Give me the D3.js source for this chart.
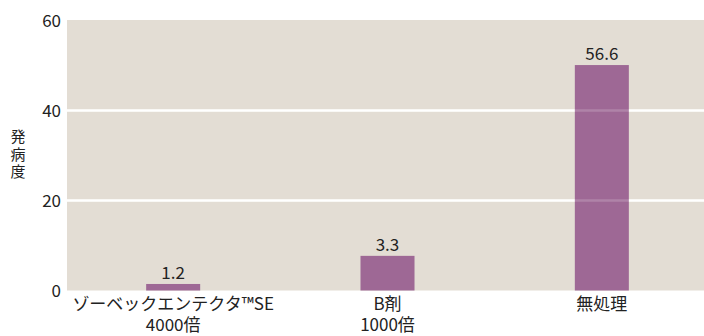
<!DOCTYPE html>
<html><head><meta charset="utf-8">
<script src="https://cdn.jsdelivr.net/npm/d3@7"></script>
<style>html,body{margin:0;padding:0;background:#fff;}svg{display:block;}</style>
</head><body>
<svg id="c" width="704" height="336"></svg>
<script>
const categories = [["ゾーベックエンテクタ™SE","4000倍"],["B剤","1000倍"],["無処理"]];
const valueLabels = ["1.2","3.3","56.6"];
const barHeights = [1.45, 7.7, 50.1];
const yTicks = [0,20,40,60];
const yTitle = ["発","病","度"];

(function(){
const W=704, mLeft=67, mRight=709, mTop=20.5, mBottom=290.5;
const font = "'Noto Sans CJK JP','Noto Sans',sans-serif";
const svg = d3.select("#c");
const x = d3.scaleBand().domain(d3.range(categories.length)).range([mLeft-1,mRight]).paddingInner(0.748).paddingOuter(0.374);
const y = d3.scaleLinear().domain([0,60]).range([mBottom,mTop]);

svg.append("rect").attr("x",mLeft).attr("y",mTop-0.5).attr("width",W-mLeft).attr("height",mBottom-mTop+0.5).attr("fill","#e3ddd4");

const gridVals = yTicks.filter(v=>v>0 && v<60);
svg.append("g").selectAll("line").data(gridVals).join("line")
  .attr("x1",mLeft).attr("x2",W).attr("y1",d=>y(d)).attr("y2",d=>y(d))
  .attr("stroke","#fff").attr("stroke-width",2.5);

svg.append("g").selectAll("rect").data(barHeights).join("rect")
  .attr("x",(d,i)=>x(i)).attr("width",x.bandwidth())
  .attr("y",d=>y(d)).attr("height",d=>y(0)-y(d))
  .attr("fill","#9e6895");

svg.append("g").selectAll("line").data(gridVals).join("line")
  .attr("x1",mLeft).attr("x2",W).attr("y1",d=>y(d)).attr("y2",d=>y(d))
  .attr("stroke","#fff").attr("stroke-opacity",0.18).attr("stroke-width",2.5);

svg.append("g").selectAll("text").data(valueLabels).join("text")
  .attr("x",(d,i)=>x(i)+x.bandwidth()/2).attr("y",(d,i)=>y(barHeights[i])-5)
  .attr("text-anchor","middle").attr("font-family",font).attr("font-size",17).attr("fill","#222")
  .text(d=>d);

svg.append("g").selectAll("text").data(yTicks).join("text")
  .attr("x",61).attr("y",d=>y(d)+6).attr("text-anchor","end")
  .attr("font-family",font).attr("font-size",17).attr("fill","#222").text(d=>d);

const cat = svg.append("g").selectAll("text").data(categories).join("text")
  .attr("text-anchor","middle").attr("font-family",font).attr("font-size",17).attr("fill","#222");
cat.each(function(lines,i){
  const t=d3.select(this);
  lines.forEach((l,j)=>t.append("tspan").attr("x",x(i)+x.bandwidth()/2).attr("y",310+j*21).text(l));
});

svg.append("g").selectAll("text").data(yTitle).join("text")
  .attr("x",18).attr("y",(d,i)=>142+i*17.5).attr("text-anchor","middle")
  .attr("font-family",font).attr("font-size",15).attr("fill","#222").text(d=>d);
})();
</script>
</body></html>
